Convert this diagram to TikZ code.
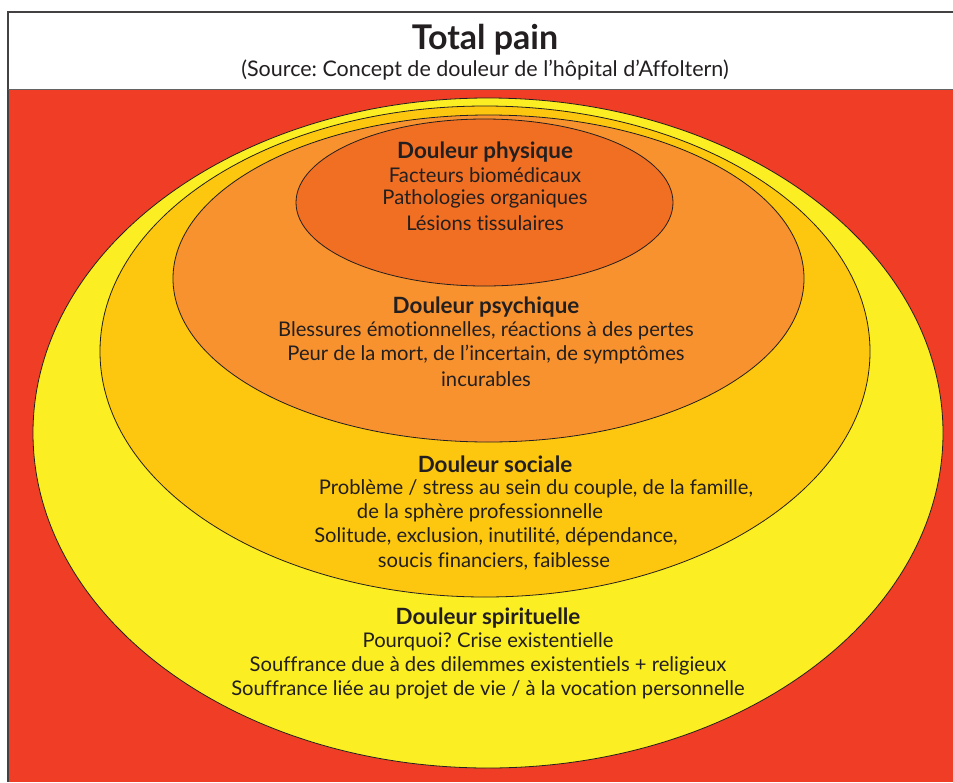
\documentclass[tikz,border=0pt]{standalone}
\usepackage{fontspec}
\setmainfont[Ligatures=NoCommon]{Lato}
\frenchspacing
\definecolor{bgred}{HTML}{EF3E25}
\definecolor{yel}{HTML}{FBEE23}
\definecolor{gold}{HTML}{FDC70F}
\definecolor{orng}{HTML}{F7922E}
\definecolor{dorng}{HTML}{F06F22}
\definecolor{ink}{HTML}{231F20}
\begin{document}
\begin{tikzpicture}[x=1pt,y=-1pt,
  ring/.style={draw=ink,line width=0.8pt},
  head/.style={text=ink,font=\fontsize{22.4}{24}\selectfont\bfseries,inner sep=0pt},
  body/.style={text=ink,font=\fontsize{20.2}{24}\selectfont,inner sep=0pt}]
\useasboundingbox (0,0) rectangle (953,782);
% frame and backgrounds
\fill[white] (0,0) rectangle (953,782);
\fill[bgred] (8,89) rectangle (953,782);
\draw[ink!85,line width=1.2pt] (953,12) -- (8,12) -- (8,782);
\draw[ink!70,line width=1pt] (8,89) -- (953,89);
% title
\node[text=ink,font=\fontsize{34}{36}\selectfont\bfseries,inner sep=0pt] (title) at (485,40) {Total pain};
\node[text=ink,font=\fontsize{21.5}{24}\selectfont,inner sep=0pt] (sub) at (485,70) {(Source: Concept de douleur de l’hôpital d’Affoltern)};
% ellipses
\draw[ring,fill=yel] (488,433) ellipse [x radius=455,y radius=335];
\draw[ring,fill=gold] (485,351.5) ellipse [x radius=385,y radius=245.5];
\draw[ring,fill=orng] (488.5,278.5) ellipse [x radius=315.5,y radius=163.5];
\draw[ring,fill=dorng] (484.5,202.5) ellipse [x radius=188.5,y radius=83.5];
% physique
\node[head] (ph0) at (485,152) {Douleur physique};
\node[body] (ph1) at (485,175) {Facteurs biomédicaux};
\node[body] (ph2) at (485,199) {Pathologies organiques};
\node[body] (ph3) at (485,223) {Lésions tissulaires};
% psychique
\node[head] (ps0) at (486,307) {Douleur psychique};
\node[body] (ps1) at (486,331) {Blessures émotionnelles, réactions à des pertes};
\node[body] (ps2) at (486,355) {Peur de la mort, de l’incertain, de symptômes};
\node[body] (ps3) at (486,379) {incurables};
% sociale
\node[head] (so0) at (495,464) {Douleur sociale};
\node[body] (so1) at (536,489) {Problème / stress au sein du couple, de la famille,};
\node[body] (so2) at (480,513) {de la sphère professionnelle};
\node[body] (so3) at (496,537) {Solitude, exclusion, inutilité, dépendance,};
\node[body] (so4) at (494,561) {soucis financiers, faiblesse};
% spirituelle
\node[head] (sp0) at (488,618) {Douleur spirituelle};
\node[body] (sp1) at (488,642) {Pourquoi? Crise existentielle};
\node[body] (sp2) at (488,666) {Souffrance due à des dilemmes existentiels + religieux};
\node[body] (sp3) at (488,690) {Souffrance liée au projet de vie / à la vocation personnelle};
\end{tikzpicture}
\end{document}
